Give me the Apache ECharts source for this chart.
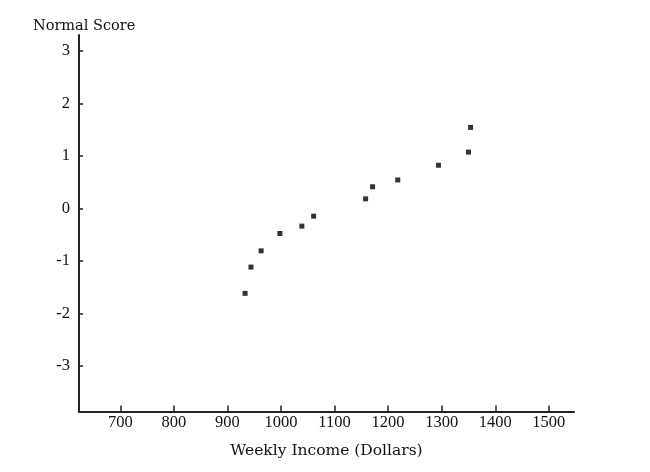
<!DOCTYPE html>
<html>

<head>
    <meta charset="utf-8">
    <title>Normal Quantile Plot</title>
    <script src="https://cdn.jsdelivr.net/npm/echarts@6.0.0/dist/echarts.min.js"></script>
    <style>
        html, body { margin: 0; padding: 0; background: #fff; }
    </style>
</head>

<body>
    <div id="main" style="width: 650px;height:472px;"></div>
    <script type="text/javascript">
        // weekly income (dollars) and its normal score
        var incomes = [933, 944, 963, 998, 1039, 1061, 1158, 1171, 1218, 1294, 1350, 1354];
        var scores = [-1.62, -1.12, -0.81, -0.48, -0.34, -0.15, 0.18, 0.41, 0.54, 0.82, 1.07, 1.54];
        var xTicks = [700, 800, 900, 1000, 1100, 1200, 1300, 1400, 1500];
        var yTicks = [-3, -2, -1, 0, 1, 2, 3];

        var points = incomes.map(function(v, i) {
            return [v, scores[i]];
        });

        var myChart = echarts.init(document.getElementById('main'));
        var labelFont = 'Liberation Serif';
        var nameFont = 'DejaVu Serif';

        option = {
            animation: false,
            backgroundColor: '#fff',
            title: {
                text: 'Normal Score',
                left: 28,
                top: 14,
                textStyle: {
                    fontFamily: nameFont,
                    fontSize: 14.5,
                    fontWeight: 'normal',
                    color: '#111'
                }
            },
            grid: {
                left: 79,
                right: 76,
                top: 35,
                bottom: 60.5,
                containLabel: false
            },
            xAxis: {
                type: 'value',
                min: 623,
                max: 1547,
                name: 'Weekly Income (Dollars)',
                nameLocation: 'middle',
                nameGap: 31,
                nameTextStyle: {
                    fontFamily: nameFont,
                    fontSize: 15.5,
                    color: '#111'
                },
                axisLine: { onZero: false, lineStyle: { color: '#222', width: 2 } },
                axisTick: {
                    inside: true,
                    length: 6,
                    customValues: xTicks,
                    lineStyle: { color: '#222', width: 1.5 }
                },
                axisLabel: {
                    customValues: xTicks,
                    formatter: function(v) { return String(v); },
                    margin: 3,
                    fontFamily: labelFont,
                    fontSize: 16.5,
                    color: '#111'
                },
                splitLine: { show: false }
            },
            yAxis: {
                type: 'value',
                min: -3.87,
                max: 3.3,
                axisLine: { show: true, onZero: false, lineStyle: { color: '#222', width: 2 } },
                axisTick: {
                    show: true,
                    inside: true,
                    length: 4,
                    customValues: yTicks,
                    lineStyle: { color: '#222', width: 1.5 }
                },
                axisLabel: {
                    customValues: yTicks,
                    formatter: function(v) { return String(v); },
                    margin: 9,
                    fontFamily: labelFont,
                    fontSize: 16.5,
                    color: '#111'
                },
                splitLine: { show: false }
            },
            series: [{
                type: 'scatter',
                data: points,
                symbol: 'rect',
                symbolSize: 5,
                itemStyle: { color: '#000' }
            }]
        };

        myChart.setOption(option);
    </script>
</body>

</html>
